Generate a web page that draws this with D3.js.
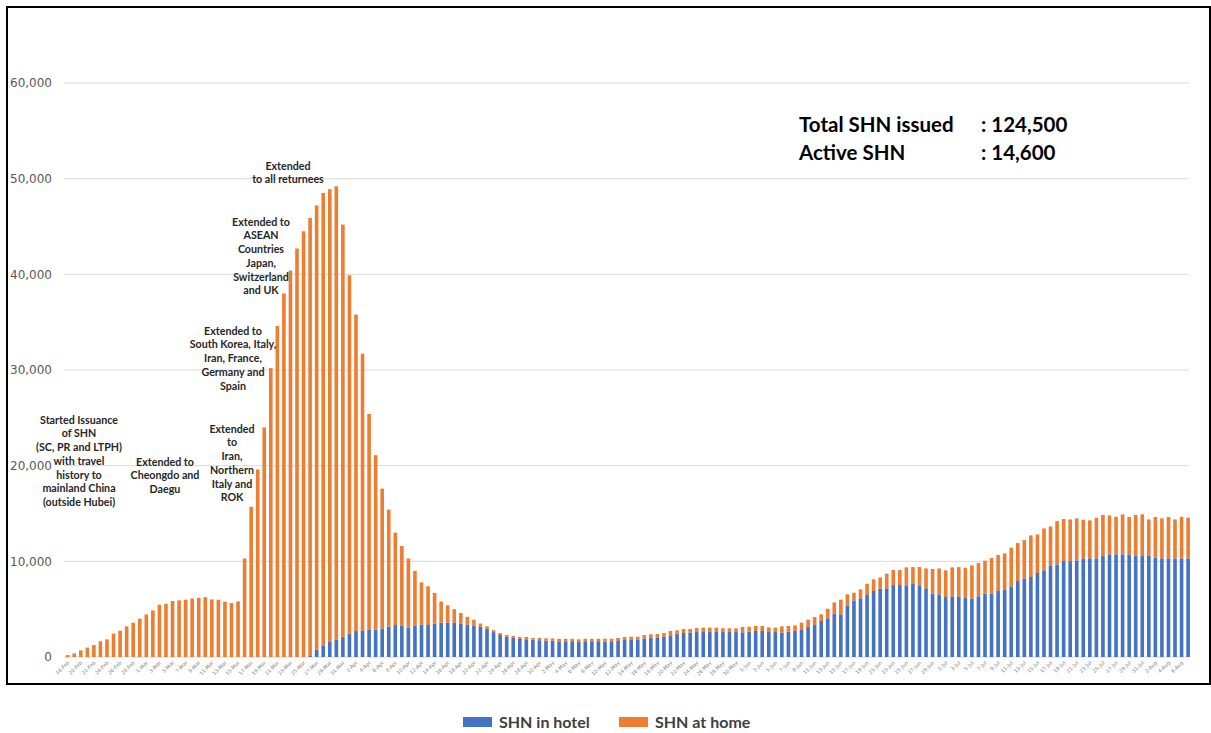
<!DOCTYPE html>
<html>
<head>
<meta charset="utf-8">
<script src="https://cdn.jsdelivr.net/npm/d3@7"></script>
<style>
  body{margin:0;background:#fff;}
  .yAxis text{font-family:"DejaVu Sans",sans-serif;font-size:12px;fill:#595959;}
  .xAxis text{font-family:"DejaVu Sans",sans-serif;font-size:5px;fill:#7f7f7f;}
  .note{font-family:Lato,sans-serif;font-size:10.7px;font-weight:bold;fill:#262626;}
</style>
</head>
<body>
<div id="chart"></div>
<script>
// daily data starting 18-Feb-2020
var startDate = new Date(2020, 1, 18);
var dayCount = 172;

var hotel = [
  0,0,0,0,0,0,0,0,0,0,0,0,0,0,0,0,0,0,0,0,0,0,0,0,0,0,0,
  0,0,0,0,0,0,0,0,0,0,
  100,770,1220,1640,1810,2120,2470,2710,2780,2890,2850,2990,3170,3340,
  3300,3100,3250,3400,3350,3500,3600,3600,3600,3500,3400,3300,3150,2950,2600,2300,2100,2000,1900,1850,1800,1750,1700,1700,1650,1650,1650,1600,1650,1650,1650,
  1600,1570,1670,1780,1780,1850,1920,2020,2050,2120,2190,2440,2510,2540,2610,2610,2610,2610,2610,2610,
  2610,2580,2650,2720,2720,2610,2610,2540,2650,2720,2820,3130,3340,3760,4040,4530,4460,5400,5920,6130,
  6480,6900,7140,7180,7520,7520,7420,7630,7420,7180,6620,6550,6270,6340,6340,6160,6130,6340,6620,6650,
  6970,7070,7380,7940,8220,8360,8780,9060,9510,9680,10030,10030,10100,10310,10310,10310,10550,10730,10730,10730,
  10730,10550,10550,10620,10380,10310,10310,10310,10310,10310
];

var home = [
  200,380,700,980,1250,1640,1840,2440,2750,3200,3580,4000,4450,4870,5460,5570,5850,5920,5990,6120,6190,6260,6020,5990,5780,5640,5810,
  10300,15700,19600,24000,30200,34600,38000,40400,42700,44500,
  45800,46430,47280,47260,47390,43080,37430,33090,28920,22510,18250,14610,12230,9660,
  8300,7200,5750,4400,4050,3200,2200,1800,1400,1100,800,600,350,250,200,200,200,200,200,250,200,250,250,250,250,250,250,250,250,250,250,
  315,345,315,310,340,270,380,350,350,380,530,350,420,390,420,460,460,460,390,390,
  390,550,520,520,520,490,460,660,590,590,770,770,840,700,1010,1180,1530,1150,800,940,
  1180,1220,1180,1530,1570,1570,1950,1770,1980,2080,2580,2710,2790,3030,3060,3170,3450,3480,3450,3690,
  3690,3760,4040,3970,4010,4350,4030,4380,4140,4530,4390,4350,4390,4040,3970,4250,4290,4070,3930,4180,
  3900,4290,4360,3760,4250,4180,4320,4070,4350,4250
];

var yTicks = [0,10000,20000,30000,40000,50000,60000];
var seriesNames = ["SHN in hotel","SHN at home"];
var seriesColors = ["#4472C4","#ED7D31"];
var statLabels = ["Total SHN issued","Active SHN"];
var statValues = [": 124,500",": 14,600"];

var notes = [
  {x:79,  y:420, lines:["Started Issuance","of SHN","(SC, PR and LTPH)","with travel","history to","mainland China","(outside Hubei)"]},
  {x:165, y:462, lines:["Extended to","Cheongdo and","Daegu"]},
  {x:232, y:429, lines:["Extended","to","Iran,","Northern","Italy and","ROK"]},
  {x:233, y:331, lines:["Extended to","South Korea, Italy,","Iran, France,","Germany and","Spain"]},
  {x:261, y:222, lines:["Extended to","ASEAN","Countries","Japan,","Switzerland","and UK"]},
  {x:288, y:166, lines:["Extended","to all returnees"]}
];

var width = 1211, height = 733;
var dates = d3.timeDay.range(startDate, d3.timeDay.offset(startDate, dayCount));
var fmt = d3.timeFormat("%-d-%b");

var svg = d3.select("#chart").append("svg")
  .attr("width", width)
  .attr("height", height);

svg.append("rect").attr("width", width).attr("height", height).attr("fill", "#fff");
svg.append("rect")
  .attr("x", 7).attr("y", 7)
  .attr("width", 1203).attr("height", 677)
  .attr("fill", "none").attr("stroke", "#000").attr("stroke-width", 2);

var x = d3.scaleBand().domain(d3.range(dayCount)).range([64.4, 1191.4])
  .paddingInner(0.45).paddingOuter(0.225);
var y = d3.scaleLinear().domain([0, 60000]).range([657, 83]);

// gridlines
svg.append("g").selectAll("line")
  .data(yTicks)
  .enter().append("line")
  .attr("x1", 64).attr("x2", 1189)
  .attr("y1", function(d){return y(d);}).attr("y2", function(d){return y(d);})
  .attr("stroke", "#d9d9d9").attr("stroke-width", 1);

var yAxis = svg.append("g")
  .attr("class", "yAxis")
  .attr("transform", "translate(52,0)")
  .call(d3.axisLeft(y).tickValues(yTicks).tickSize(0).tickPadding(0).tickFormat(d3.format(",")));
yAxis.select(".domain").remove();

// stacked bars
var rows = d3.range(dayCount).map(function(i){ return {i:i, hotel:hotel[i], home:home[i]}; });
var stack = d3.stack().keys(["hotel","home"])(rows);

svg.append("g").selectAll("g")
  .data(stack)
  .enter().append("g")
  .attr("fill", function(d,k){return seriesColors[k];})
  .selectAll("rect")
  .data(function(d){return d;})
  .enter().append("rect")
  .attr("x", function(d){return x(d.data.i);})
  .attr("width", x.bandwidth())
  .attr("y", function(d){return y(d[1]);})
  .attr("height", function(d){return y(d[0]) - y(d[1]);});

var xAxis = svg.append("g")
  .attr("class", "xAxis")
  .attr("transform", "translate(0,657)")
  .call(d3.axisBottom(x)
    .tickValues(d3.range(0, dayCount, 2))
    .tickSize(0)
    .tickFormat(function(i){return fmt(dates[i]);}));
xAxis.select(".domain").remove();
xAxis.selectAll("text")
  .attr("text-anchor", "end")
  .attr("dy", null)
  .attr("y", 0)
  .attr("transform", "translate(2,6) rotate(-45)");

// annotations
notes.forEach(function(n){
  var t = svg.append("text").attr("class", "note").attr("text-anchor", "middle");
  n.lines.forEach(function(l, k){
    t.append("tspan").attr("x", n.x).attr("y", n.y + k*13.7 + 3.7).text(l);
  });
});

// totals box
statLabels.forEach(function(s, k){
  svg.append("text").attr("x", 799).attr("y", 132 + k*28)
    .style("font-family", "Lato, sans-serif").style("font-size", "20.5px").style("font-weight", "bold")
    .attr("fill", "#000").text(s);
  svg.append("text").attr("x", 981).attr("y", 132 + k*28)
    .style("font-family", "Lato, sans-serif").style("font-size", "20.5px").style("font-weight", "bold")
    .attr("fill", "#000").text(statValues[k]);
});

// legend
var legX = [463, 619];
seriesNames.forEach(function(s, k){
  svg.append("rect").attr("x", legX[k]).attr("y", 717).attr("width", 29).attr("height", 10)
    .attr("fill", seriesColors[k]);
  svg.append("text").attr("x", legX[k] + 36).attr("y", 728)
    .style("font-family", "Lato, sans-serif").style("font-size", "16px").style("font-weight", "bold")
    .attr("fill", "#404040").text(s);
});
</script>
</body>
</html>
